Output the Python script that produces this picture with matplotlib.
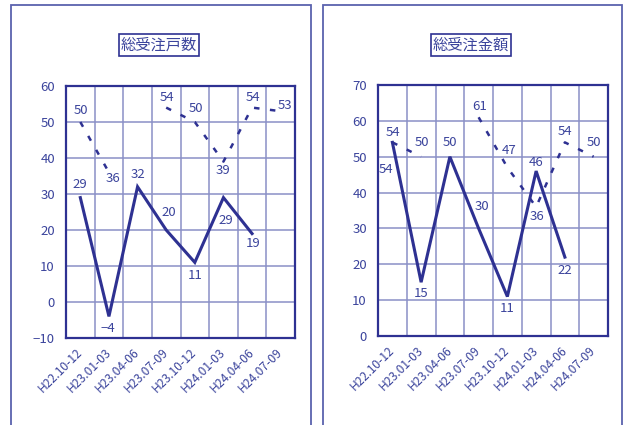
import numpy as np
import matplotlib
matplotlib.use("Agg")
import matplotlib.pyplot as plt
import matplotlib.transforms as mtransforms
from matplotlib.patches import Rectangle

plt.rcParams['font.family'] = ['Noto Sans CJK JP', 'DejaVu Sans']

# データ
periods = ['H22.10-12', 'H23.01-03', 'H23.04-06', 'H23.07-09',
           'H23.10-12', 'H24.01-03', 'H24.04-06', 'H24.07-09']

houses_solid = [29, -4, 32, 20, 11, 29, 19, np.nan]
houses_dash = [50, 36, np.nan, 54, 50, 39, 54, 53]

amount_solid = [54, 15, 50, 30, 11, 46, 22, np.nan]
amount_dash = [54, 50, np.nan, 61, 47, 36, 54, 50]

# ラベルの位置 (pixels)
houses_solid_off = [(0, 13), (-1, -12), (0, 12), (3, 18), (0, -13), (2, -23), (1, -10), None]
houses_dash_off = [(1, 12), (4, -6), None, (1, 10), (1, 13), (0, -9), (1, 10), (4, 6)]
amount_solid_off = [(-6, -27), (0, -11), (0, 14), (3, 22), (0, -12), (0, 9), (0, -13), None]
amount_dash_off = [(1, 10), (1, 14), None, (1, 11), (2, 17), (1, -10), (0, 11), (0, 14)]

navy = '#2E3192'
txt = '#3B449C'
gridc = '#8A8FC6'

fig = plt.figure(figsize=(6.24, 4.25), dpi=100)

# 外枠
for x0, x1 in [(11, 311), (323, 622)]:
    fig.patches.append(Rectangle((x0 / 624, -0.1), (x1 - x0) / 624, 1.1 - 5 / 425,
                                 transform=fig.transFigure, fill=False,
                                 edgecolor='#5A62AE', lw=1.3))


def draw(ax, solid, dash, soff, doff, ymin, ymax, title, tx):
    x = np.arange(len(periods))
    ax.plot(x, solid, color=navy, lw=2.2, solid_joinstyle='miter')
    ax.plot(x, dash, color=navy, lw=1.8, linestyle=(0, (2.2, 4.2)))
    for xi, v, o in zip(x, solid, soff):
        if o is not None and not np.isnan(v):
            ax.annotate(f'{v:g}'.replace('-', '−'), (xi, v), xytext=o, textcoords='offset pixels',
                        ha='center', va='center', fontsize=9.5, color=txt)
    for xi, v, o in zip(x, dash, doff):
        if o is not None and not np.isnan(v):
            ax.annotate(f'{v:g}', (xi, v), xytext=o, textcoords='offset pixels',
                        ha='center', va='center', fontsize=9.5, color=txt)
    ax.set_xlim(-0.5, len(periods) - 0.5)
    ax.set_ylim(ymin, ymax)
    ax.set_yticks(np.arange(ymin, ymax + 1, 10))
    ax.set_xticks(x)
    ax.set_xticks(np.arange(0.5, len(periods) - 0.5), minor=True)
    ax.set_xticklabels(periods, rotation=45, ha='right', va='center',
                       rotation_mode='anchor', fontsize=8.7, color=txt)
    shift = mtransforms.ScaledTranslation(-4 / 100, -3 / 100, fig.dpi_scale_trans)
    for lab in ax.get_xticklabels():
        lab.set_transform(lab.get_transform() + shift)
    ax.tick_params(axis='x', which='both', length=0, pad=9)
    ax.tick_params(axis='y', length=0, pad=8, labelsize=9.5, labelcolor=txt)
    ax.grid(True, axis='y', color=gridc, lw=1.1)
    ax.grid(True, axis='x', which='minor', color=gridc, lw=1.1)
    ax.set_axisbelow(True)
    for s in ax.spines.values():
        s.set_color(navy)
        s.set_linewidth(1.6)
    fig.text(tx, 1 - 45 / 425, title, ha='center', va='center', fontsize=11, color=txt,
             bbox=dict(boxstyle='square,pad=0.15', fc='white', ec=navy, lw=1.2))


ax1 = fig.add_axes([66 / 624, 1 - 338 / 425, 229 / 624, 252 / 425])
draw(ax1, houses_solid, houses_dash, houses_solid_off, houses_dash_off, -10, 60, '総受注戸数', 159 / 624)

ax2 = fig.add_axes([378 / 624, 1 - 336 / 425, 230 / 624, 251 / 425])
draw(ax2, amount_solid, amount_dash, amount_solid_off, amount_dash_off, 0, 70, '総受注金額', 471 / 624)

plt.savefig('out.png', dpi=100)
